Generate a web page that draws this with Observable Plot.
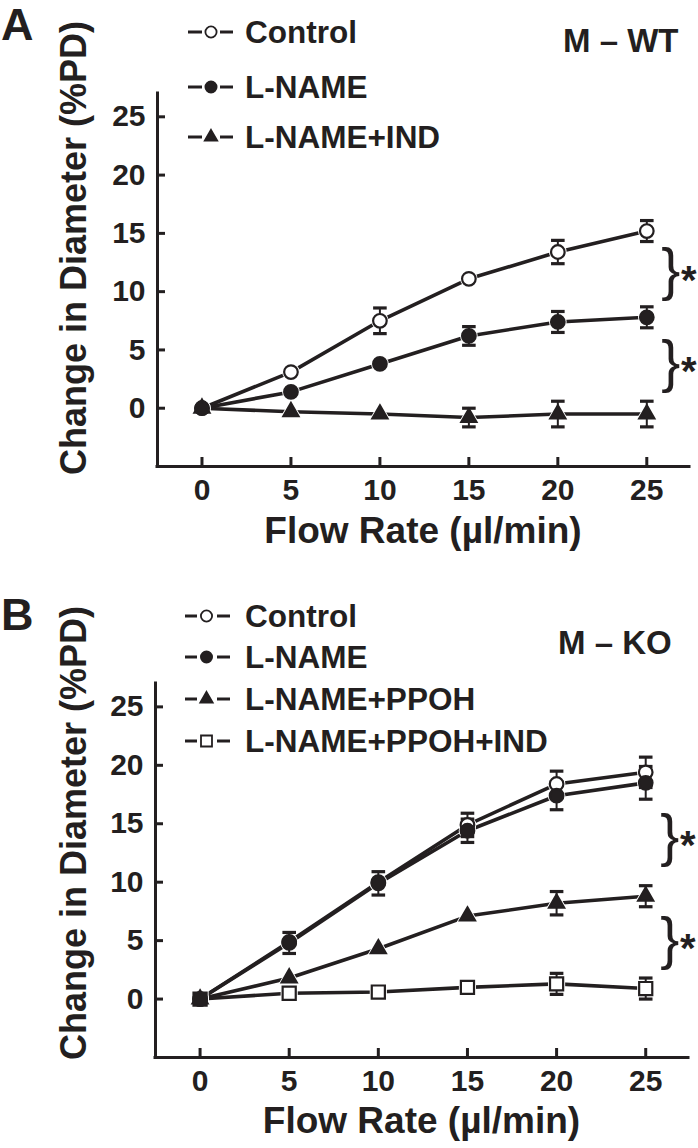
<!DOCTYPE html>
<html>
<head>
<meta charset="utf-8">
<script src="https://cdn.jsdelivr.net/npm/d3@7"></script>
<script src="https://cdn.jsdelivr.net/npm/@observablehq/plot@0.6"></script>
<style>
  body { margin: 0; background: #fff; }
  #fig { position: relative; width: 698px; height: 1148px; overflow: hidden; background: #fff; }
  #fig > svg { position: absolute; left: 0; }
</style>
</head>
<body>
<div id="fig"></div>
<script>
// ---------- DATA ----------
const flowRates = [0, 5, 10, 15, 20, 25];
const xTicks = [0, 5, 10, 15, 20, 25];
const yTicks = [0, 5, 10, 15, 20, 25];
const xTitle = "Flow Rate (µl/min)";
const yTitle = "Change in Diameter (%PD)";

// Panel A : M – WT
const panelATag = "A";
const panelAGroup = "M – WT";
const seriesA = ["Control", "L-NAME", "L-NAME+IND"];
const controlA = [0, 3.1, 7.5, 11.1, 13.4, 15.2];
const controlAErr = [0, 0, 1.1, 0, 1.0, 0.9];
const lnameA = [0, 1.4, 3.8, 6.2, 7.4, 7.8];
const lnameAErr = [0, 0, 0, 0.8, 0.9, 0.9];
const lnameIndA = [0, -0.3, -0.5, -0.8, -0.5, -0.5];
const lnameIndAErr = [0, 0, 0, 0.8, 1.1, 1.1];
const signifA = [["Control", "L-NAME"], ["L-NAME", "L-NAME+IND"]];

// Panel B : M – KO
const panelBTag = "B";
const panelBGroup = "M – KO";
const seriesB = ["Control", "L-NAME", "L-NAME+PPOH", "L-NAME+PPOH+IND"];
const controlB = [0, 4.9, 10.0, 14.9, 18.4, 19.4];
const controlBErr = [0, 0, 0, 1.0, 1.1, 1.3];
const lnameB = [0, 4.8, 9.9, 14.4, 17.4, 18.5];
const lnameBErr = [0, 0.9, 1.0, 1.0, 1.2, 1.4];
const ppohB = [0, 1.8, 4.3, 7.1, 8.2, 8.8];
const ppohBErr = [0, 0, 0, 0, 1.0, 0.9];
const ppohIndB = [0, 0.5, 0.6, 1.0, 1.3, 0.9];
const ppohIndBErr = [0, 0, 0, 0, 0.9, 0.9];
const signifB = [["L-NAME", "L-NAME+PPOH"], ["L-NAME+PPOH", "L-NAME+PPOH+IND"]];

// ---------- STYLE ----------
const INK = "#231f20";
const FONT = "'Liberation Sans', Arial, Helvetica, sans-serif";
const xDomain = [-2.5, 27.4];
const yDomain = [-5, 27];

const markerStyles = {
  "Control": {symbol: "circle", fill: "white", r: 6.8, lr: 5.6},
  "L-NAME": {symbol: "circle", fill: INK, r: 6.8, lr: 5.6},
  "L-NAME+IND": {symbol: "triangle", fill: INK, r: 5.6, lr: 4.6},
  "L-NAME+PPOH": {symbol: "triangle", fill: INK, r: 5.6, lr: 4.6},
  "L-NAME+PPOH+IND": {symbol: "square", fill: "white", r: 7.4, lr: 6.2, originFill: INK}
};
const capSymbol = {
  draw(ctx, size) {
    const w = Math.sqrt(size / Math.PI);
    ctx.moveTo(-w, 0); ctx.lineTo(w, 0);
  }
};

function buildRows(names, values, errs) {
  const rows = [];
  names.forEach((name, s) => {
    values[s].forEach((v, i) => rows.push({series: name, x: flowRates[i], y: v, err: errs[s][i]}));
  });
  return rows;
}

function panelPlot({rows, names, signif, height, marginTop, marginBottom, marginLeft, marginRight}) {
  const lastX = flowRates[flowRates.length - 1];
  const last = new Map(rows.filter(d => d.x === lastX).map(d => [d.series, d.y]));
  const brackets = signif.map(([a, b]) => ({x: lastX, y: (last.get(a) + last.get(b)) / 2}));
  const errRows = rows.filter(d => d.err > 0);
  const marks = [
    Plot.ruleY([yDomain[0]], {stroke: INK, strokeWidth: 3, strokeLinecap: "square"}),
    Plot.ruleX([xDomain[0]], {stroke: INK, strokeWidth: 3, strokeLinecap: "square"}),
    Plot.axisX({ticks: xTicks, tickSize: -9, tickPadding: 21, stroke: INK, strokeWidth: 3, fill: INK,
      fontSize: 30, fontWeight: "bold", label: null}),
    Plot.axisY({ticks: yTicks, tickSize: -8, tickPadding: 20, stroke: INK, strokeWidth: 3, fill: INK,
      fontSize: 30, fontWeight: "bold", label: null}),
    Plot.line(rows, {x: "x", y: "y", z: "series", stroke: INK, strokeWidth: 3.6})
  ];
  // halos
  names.forEach(name => {
    const st = markerStyles[name];
    marks.push(Plot.dot(rows.filter(d => d.series === name), {x: "x", y: "y", symbol: st.symbol, r: st.r,
      fill: "white", stroke: "white", strokeWidth: 4}));
  });
  marks.push(
    Plot.ruleX(errRows, {x: "x", y1: d => d.y - d.err, y2: d => d.y + d.err, stroke: INK, strokeWidth: 2}),
    Plot.dot(errRows, {x: "x", y: d => d.y + d.err, symbol: capSymbol, r: 6.8, stroke: INK, strokeWidth: 3.2, fill: "none"}),
    Plot.dot(errRows, {x: "x", y: d => d.y - d.err, symbol: capSymbol, r: 6.8, stroke: INK, strokeWidth: 3.2, fill: "none"})
  );
  names.forEach(name => {
    const st = markerStyles[name];
    const sr = rows.filter(d => d.series === name);
    marks.push(Plot.dot(sr.filter(d => !(st.originFill && d.x === flowRates[0])), {x: "x", y: "y", symbol: st.symbol, r: st.r,
      fill: st.fill, stroke: INK, strokeWidth: 2.2}));
    if (st.originFill) marks.push(Plot.dot(sr.filter(d => d.x === flowRates[0]), {x: "x", y: "y", symbol: st.symbol, r: st.r,
      fill: st.originFill, stroke: INK, strokeWidth: 2.2}));
  });
  marks.push(
    Plot.text(brackets, {x: "x", y: "y", text: () => "}", dx: 24, dy: -3, fontSize: 57, fontWeight: "normal", fill: INK}),
    Plot.text(brackets, {x: "x", y: "y", text: () => "*", dx: 42, dy: 7, fontSize: 40, fontWeight: "bold", fill: INK})
  );
  return Plot.plot({
    width: 698, height, marginTop, marginBottom, marginLeft, marginRight,
    x: {domain: xDomain}, y: {domain: yDomain},
    style: {fontFamily: FONT, fontWeight: "bold", color: INK, background: "transparent", overflow: "visible"},
    marks
  });
}

const fig = document.getElementById("fig");

const rowsA = buildRows(seriesA, [controlA, lnameA, lnameIndA], [controlAErr, lnameAErr, lnameIndAErr]);
const plotA = panelPlot({rows: rowsA, names: seriesA, signif: signifA, height: 591,
  marginTop: 93, marginBottom: 125, marginLeft: 157, marginRight: 9});
plotA.style.top = "0px";
fig.appendChild(plotA);

const rowsB = buildRows(seriesB, [controlB, lnameB, ppohB, ppohIndB], [controlBErr, lnameBErr, ppohBErr, ppohIndBErr]);
const plotB = panelPlot({rows: rowsB, names: seriesB, signif: signifB, height: 557,
  marginTop: 92, marginBottom: 91, marginLeft: 155, marginRight: 10});
plotB.style.top = "591px";
fig.appendChild(plotB);

// ---------- overlay texts & legends ----------
const ov = d3.select(fig).append("svg")
  .attr("width", 698).attr("height", 1148)
  .style("top", "0px").style("pointer-events", "none")
  .attr("font-family", FONT).attr("font-weight", "bold").attr("fill", INK);

function overlayPanel({top, tag, group, groupX, groupBase, names, legendBases, dash, titleY, xCenter}) {
  ov.append("text").attr("x", 1).attr("y", top + 40).attr("font-size", 45).text(tag);
  ov.append("text").attr("x", groupX).attr("y", groupBase).attr("font-size", 33).text(group);
  ov.append("text").attr("transform", `translate(86,${titleY}) rotate(-90)`).attr("text-anchor", "middle")
    .attr("font-size", 36).text(yTitle);
  ov.append("text").attr("x", xCenter).attr("y", top + 543).attr("text-anchor", "middle")
    .attr("font-size", 37).text(xTitle);
  names.forEach((name, i) => {
    const st = markerStyles[name];
    const b = legendBases[i];
    const cy = b - 11;
    const g = ov.append("g");
    g.append("line").attr("x1", dash[0]).attr("x2", dash[1]).attr("y1", cy).attr("y2", cy).attr("stroke", INK).attr("stroke-width", 3);
    g.append("line").attr("x1", dash[3]).attr("x2", dash[4]).attr("y1", cy).attr("y2", cy).attr("stroke", INK).attr("stroke-width", 3);
    const sym = {circle: d3.symbolCircle, triangle: d3.symbolTriangle, square: d3.symbolSquare}[st.symbol];
    g.append("path").attr("d", d3.symbol(sym, Math.PI * st.lr * st.lr)())
      .attr("transform", `translate(${dash[2]},${cy})`)
      .attr("fill", st.fill).attr("stroke", INK).attr("stroke-width", 1.8);
    g.append("text").attr("x", 245).attr("y", b).attr("font-size", 31.5).text(name);
  });
}

overlayPanel({top: 0, tag: panelATag, group: panelAGroup, groupX: 563, groupBase: 52, names: seriesA,
  legendBases: [43, 98, 148], dash: [188, 202, 211, 220, 233], titleY: 248, xCenter: 423});
overlayPanel({top: 590, tag: panelBTag, group: panelBGroup, groupX: 558, groupBase: 654, names: seriesB,
  legendBases: [627, 668, 710, 752], dash: [185, 197, 206.5, 217, 230], titleY: 833, xCenter: 421.5});
</script>
</body>
</html>
